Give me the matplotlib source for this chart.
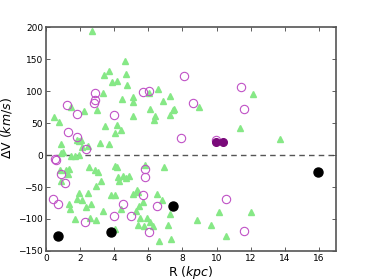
import numpy as np
import matplotlib
matplotlib.use("Agg")
import matplotlib.pyplot as plt

# green triangles
tri_R = [2.69, 4.64, 3.67, 3.38, 4.67, 3.87, 4.16, 4.75, 3.32, 6.58, 6.03, 6.84, 7.28,
         5.08, 4.45, 5.10, 2.99, 2.20, 1.45, 6.09, 6.37, 6.33, 7.50, 7.47, 7.26, 5.10,
         0.49, 0.76, 3.48, 4.14, 4.38, 4.02, 12.15, 8.95, 11.37, 13.74, 0.86, 0.86, 1.00,
         1.80, 1.95, 2.05, 2.12, 2.45, 3.16, 3.69, 1.48, 1.72, 1.95,
         0.84, 1.19, 1.37, 1.27, 0.86, 2.50, 2.89, 3.07, 3.22, 2.91, 4.04, 4.16, 4.20,
         4.29, 4.49, 4.69, 4.88, 3.81, 4.04, 1.92, 1.80, 2.09, 2.48, 1.37, 1.39, 1.72,
         2.34, 2.56, 2.93, 2.65, 3.34, 5.08, 5.33, 5.39, 5.70, 5.47, 4.38, 5.29, 5.51,
         5.90, 5.41, 5.74, 6.09, 6.27, 6.52, 6.81, 6.90, 5.78, 4.06, 6.60, 7.34, 7.30,
         7.17, 8.87, 9.66, 10.15, 10.56, 12.05]
tri_dV = [194, 148, 131, 125, 127, 114, 116, 110, 97, 104, 97, 85, 93,
          91, 88, 83, 71, 69, 76, 73, 62, 55, 73, 70, 63, 61,
          60, 52, 46, 47, 40, 35, 95, 75, 42, 25, 17, 4, 5,
          24, 22, 24, 12, 15, 19, 17, -1, -1, 0,
          -23, -23, -21, -30, -41, -19, -24, -26, -40, -48, -17, -18, -35,
          -41, -32, -36, -32, -63, -63, -60, -69, -70, -60, -77, -85, -100,
          -81, -98, -102, -77, -88, -61, -54, -58, -74, -79, -84, -87, -98,
          -98, -110, -111, -104, -111, -61, -71, -19, -16, -115, -135, -131, -92,
          -109, -102, -110, -89, -126, -89]

# open magenta circles
circ_R = [1.23, 1.80, 2.87, 2.87, 2.83, 3.97, 5.68, 6.05, 8.07, 1.31, 1.82, 7.91,
          11.42, 8.65, 11.64, 9.98, 2.34, 0.54, 0.57, 0.88, 1.11, 0.39, 0.70, 2.30,
          4.00, 4.49, 4.96, 5.78, 5.78, 5.66, 6.52, 6.05, 10.53, 11.62]
circ_dV = [79, 65, 98, 87, 82, 63, 99, 101, 124, 36, 29, 27,
           106, 82, 73, 24, 10, -6, -8, -30, -44, -68, -76, -104,
           -96, -77, -95, -22, -35, -63, -79, -120, -69, -119]

# filled black points
blk_R = [0.68, 3.83, 7.42, 15.93]
blk_dV = [-126, -120, -79, -26]

# filled purple points
pur_R = [9.96, 10.39]
pur_dV = [21, 21]

fig = plt.figure(figsize=(3.74, 2.8), dpi=100)
ax = fig.add_axes([0.123, 0.104, 0.775, 0.798])

ax.axhline(0, color='#555555', linestyle='--', linewidth=1.0, dashes=(4, 3), zorder=1)
ax.plot(tri_R, tri_dV, '^', color='#86e886', markeredgecolor='#86e886',
        markersize=4, linestyle='none', zorder=2)
ax.plot(circ_R, circ_dV, 'o', markerfacecolor='none', markeredgecolor='#c052c6',
        markeredgewidth=0.8, markersize=6, linestyle='none', zorder=3)
ax.plot(blk_R, blk_dV, 'o', color='black', markersize=6.5, linestyle='none', zorder=4)
ax.plot(pur_R, pur_dV, 'o', color='#7a0a7a', markersize=5.5, linestyle='none', zorder=4)

ax.set_xlim(0, 17)
ax.set_ylim(-150, 200)
ax.set_xticks(np.arange(0, 17, 2))
ax.set_yticks(np.arange(-150, 201, 50))
ax.tick_params(direction='in', top=True, right=True, labelsize=6.5, length=3,
               width=0.6, color='#444444', pad=2)
for s in ax.spines.values():
    s.set_color('#555555')
    s.set_linewidth(1.2)

ax.set_xlabel(r'R $(kpc)$', fontsize=9)
ax.set_ylabel(r'$\Delta$V $(km/s)$', fontsize=9)
ax.xaxis.set_label_coords(0.5, -0.058)
ax.yaxis.set_label_coords(-0.11, 0.55)

fig.savefig('out.png', dpi=100)
